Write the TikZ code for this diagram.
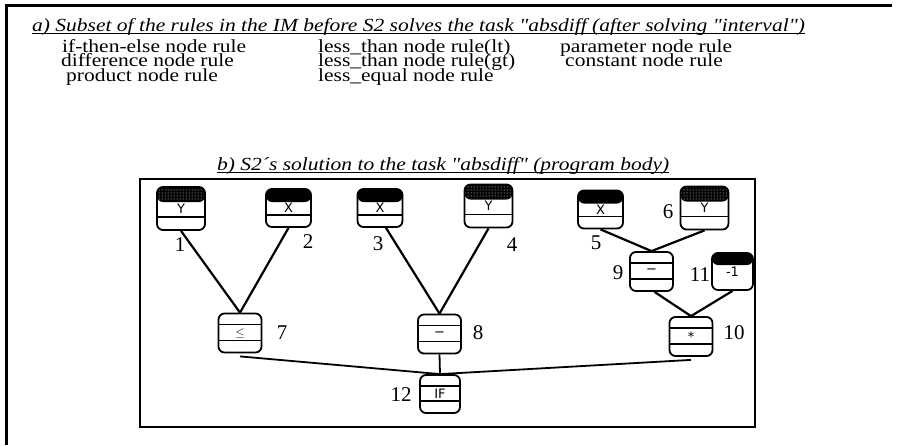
\documentclass[tikz,border=0pt]{standalone}
\usepackage{fontspec}
\setmainfont{Liberation Serif}[Ligatures=TeXOff]
\newfontfamily\boxfont{DejaVu Sans}
\usetikzlibrary{patterns,calc}
\newcommand\squash[1]{\scalebox{1}[0.86]{#1}}
\tikzset{
  frameline/.style={line width=2.6pt},
  conn/.style={line width=2.2pt},
  thinconn/.style={line width=1.8pt},
  numlbl/.style={font=\fontsize{21}{21}\selectfont, inner sep=0pt},
  ruletxt/.style={font=\fontsize{21.5}{21.5}\selectfont, anchor=base west, inner sep=0pt},
  titletxt/.style={font=\fontsize{21.5}{21.5}\selectfont\itshape, anchor=base west, inner sep=0pt},
  pbox/.style={draw, line width=1.8pt, rounded corners=6pt, inner sep=0pt,
               font=\boxfont\fontsize{13}{13}\selectfont},
  xbox/.style={pbox, minimum width=45pt, minimum height=38pt,
    path picture={
      \fill[black] (path picture bounding box.north west) rectangle ([yshift=-13pt]path picture bounding box.north east);
      \draw[line width=1.4pt] ([yshift=12pt]path picture bounding box.south west) -- ([yshift=12pt]path picture bounding box.south east);
    }},
  ybox/.style={pbox, minimum width=48pt, minimum height=43pt,
    path picture={
      \fill[black] (path picture bounding box.north west) rectangle ([yshift=-15pt]path picture bounding box.north east);
      \fill[pattern=dots, pattern color=white] (path picture bounding box.north west) rectangle ([yshift=-14pt]path picture bounding box.north east);
      \draw[line width=1.4pt] ([yshift=15pt]path picture bounding box.north west) -- ([yshift=15pt]path picture bounding box.north east);
      \draw[line width=1.4pt] ([yshift=13pt]path picture bounding box.south west) -- ([yshift=13pt]path picture bounding box.south east);
    }},
  cbox/.style={pbox, minimum width=41pt, minimum height=37pt,
    path picture={
      \fill[black] (path picture bounding box.north west) rectangle ([yshift=-12pt]path picture bounding box.north east);
    }},
  opbox/.style={pbox, minimum width=43pt, minimum height=39pt,
    path picture={
      \draw[line width=1.4pt] ([yshift=-11pt]path picture bounding box.north west) -- ([yshift=-11pt]path picture bounding box.north east);
      \draw[line width=1.4pt] ([yshift=12pt]path picture bounding box.south west) -- ([yshift=12pt]path picture bounding box.south east);
    }},
}
\begin{document}
\begin{tikzpicture}[x=1pt,y=-1pt]
\useasboundingbox (0,0) rectangle (897,445);
% outer frame (open at right and bottom)
\draw[line width=3pt] (6,445) -- (6,5) -- (892,5);
% part a
\node[titletxt] (ta) at (32,31) {\squash{a) Subset of the rules in the IM before S2 solves the task "absdiff (after solving "interval")}};
\draw[line width=1.3pt] ([yshift=-2.5pt]ta.base west) -- ([yshift=-2.5pt]ta.base east);
\node[ruletxt] (r1) at (62,52) {\squash{if-then-else node rule}};
\node[ruletxt] (r2) at (61,66.5) {\squash{difference node rule}};
\node[ruletxt] (r3) at (66,81) {\squash{product node rule}};
\node[ruletxt] (r4) at (318,52) {\squash{less\_than node rule(lt)}};
\node[ruletxt] (r5) at (318,66.5) {\squash{less\_than node rule(gt)}};
\node[ruletxt] (r6) at (318,81) {\squash{less\_equal node rule}};
\node[ruletxt] (r7) at (560,52) {\squash{parameter node rule}};
\node[ruletxt] (r8) at (565,66.5) {\squash{constant node rule}};
% part b
\node[titletxt] (tb) at (217,170) {\squash{b) S2´s solution to the task "absdiff" (program body)}};
\draw[line width=1.3pt] ([yshift=-2.5pt]tb.base west) -- ([yshift=-2.5pt]tb.base east);
\draw[frameline] (140,179) rectangle (755,427);
% nodes
\node[ybox] (n1) at (181,208.5) {Y};
\node[xbox] (n2) at (288.5,208) {X};
\node[xbox] (n3) at (380,208) {X};
\node[ybox] (n4) at (488.5,206) {Y};
\node[xbox] (n5) at (600.5,209.5) {X};
\node[ybox] (n6) at (704.5,208) {Y};
\node[opbox] (n7) at (240,333) {$\leq$};
\node[opbox] (n8) at (439.5,334) {−};
\node[opbox] (n9) at (651.5,271.5) {−};
\node[cbox] (n11) at (732.5,271.5) {\raisebox{-4pt}{-1}};
\node[opbox] (n10) at (691,336.5) {*};
\node[opbox, minimum width=40pt, minimum height=38pt] (n12) at (440,394) {IF};
% number labels
\node[numlbl] (l1) at (180,245) {1};
\node[numlbl] (l2) at (308,242) {2};
\node[numlbl] (l3) at (378,244) {3};
\node[numlbl] (l4) at (512,245) {4};
\node[numlbl] (l5) at (596,243) {5};
\node[numlbl] (l6) at (668,212) {6};
\node[numlbl] (l9) at (618,273) {9};
\node[numlbl] (l11) at (700,275) {11};
\node[numlbl] (l7) at (282,333) {7};
\node[numlbl] (l8) at (478,333) {8};
\node[numlbl] (l10) at (734,333) {10};
\node[numlbl] (l12) at (401,395) {12};
% connectors
\draw[conn] (n1.south) -- (n7.north);
\draw[conn] (n2.south) -- (n7.north);
\draw[conn] ([xshift=6pt]n3.south) -- (n8.north);
\draw[conn] (n4.south) -- (n8.north);
\draw[conn] (n5.south) -- (n9.north);
\draw[conn] (n6.south) -- (n9.north);
\draw[conn] ([xshift=3pt]n9.south) -- (n10.north);
\draw[conn] (n11.south) -- (n10.north);
\draw[thinconn] ([yshift=-3pt]n7.south) -- (n12.north);
\draw[thinconn] (n8.south) -- (n12.north);
\draw[thinconn] ([yshift=-3pt]n10.south) -- (n12.north);
\end{tikzpicture}
\end{document}
